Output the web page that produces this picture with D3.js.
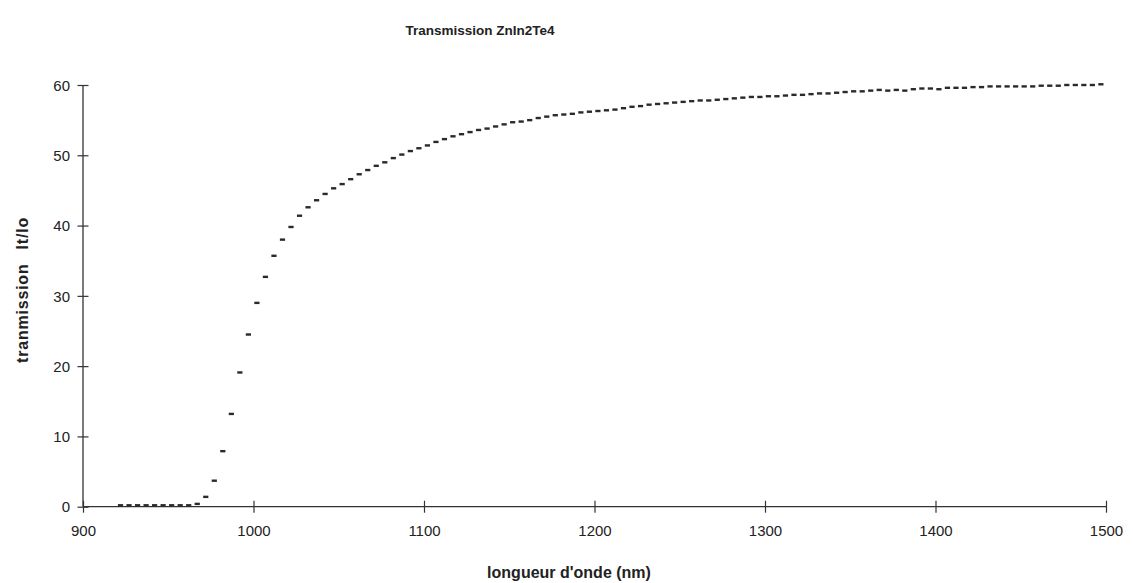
<!DOCTYPE html>
<html>
<head>
<meta charset="utf-8">
<script src="https://cdn.jsdelivr.net/npm/d3@7"></script>
<style>
  html, body { margin: 0; padding: 0; background: #fff; }
  svg { display: block; }
  text { font-family: "Liberation Sans", Arial, sans-serif; fill: #222; }
</style>
</head>
<body>
<svg id="chart" width="1133" height="583"></svg>
<script>
// ---- data ----
const titleText = "Transmission ZnIn2Te4";
const xTitle = "longueur d'onde (nm)";
const yTitleWords = ["tranmission", "It/Io"];

const xTicks = [900, 1000, 1100, 1200, 1300, 1400, 1500];
const yTicks = [0, 10, 20, 30, 40, 50, 60];

const wavelengths = [
  922, 927, 932, 937, 942, 947, 952, 957, 962, 967,
  972, 977, 982, 987, 992, 997, 1002, 1007, 1012, 1017,
  1022, 1027, 1032, 1037, 1042, 1047, 1052, 1057, 1062, 1067,
  1072, 1077, 1082, 1087, 1092, 1097, 1102, 1107, 1112, 1117,
  1122, 1127, 1132, 1137, 1142, 1147, 1152, 1157, 1162, 1167,
  1172, 1177, 1182, 1187, 1192, 1197, 1202, 1207, 1212, 1217,
  1222, 1227, 1232, 1237, 1242, 1247, 1252, 1257, 1262, 1267,
  1272, 1277, 1282, 1287, 1292, 1297, 1302, 1307, 1312, 1317,
  1322, 1327, 1332, 1337, 1342, 1347, 1352, 1357, 1362, 1367,
  1372, 1377, 1382, 1387, 1392, 1397, 1402, 1407, 1412, 1417,
  1422, 1427, 1432, 1437, 1442, 1447, 1452, 1457, 1462, 1467,
  1472, 1477, 1482, 1487, 1492, 1497
];

const transmission = [
  0.2, 0.2, 0.2, 0.2, 0.2, 0.2, 0.2, 0.2, 0.2, 0.4,
  1.4, 3.7, 7.9, 13.2, 19.1, 24.5, 29.0, 32.7, 35.7, 38.0,
  39.8, 41.4, 42.6, 43.6, 44.5, 45.3, 45.9, 46.6, 47.3, 47.9,
  48.5, 49.0, 49.6, 50.1, 50.6, 51.0, 51.4, 51.9, 52.3, 52.7,
  53.0, 53.3, 53.6, 53.8, 54.1, 54.4, 54.7, 54.8, 55.0, 55.3,
  55.5, 55.7, 55.8, 55.9, 56.1, 56.2, 56.3, 56.4, 56.5, 56.7,
  56.9, 57.0, 57.2, 57.3, 57.4, 57.5, 57.6, 57.7, 57.8, 57.8,
  57.9, 58.0, 58.1, 58.2, 58.3, 58.3, 58.4, 58.4, 58.5, 58.6,
  58.6, 58.7, 58.8, 58.8, 58.9, 59.0, 59.1, 59.1, 59.2, 59.3,
  59.2, 59.3, 59.2, 59.4, 59.5, 59.5, 59.4, 59.6, 59.6, 59.6,
  59.7, 59.7, 59.8, 59.8, 59.8, 59.8, 59.8, 59.8, 59.9, 59.9,
  59.9, 60.0, 60.0, 60.0, 60.0, 60.1
];

// ---- drawing ----
const svg = d3.select("#chart");
const x = d3.scaleLinear().domain([900, 1500]).range([83, 1106]);
const y = d3.scaleLinear().domain([0, 60]).range([506.7, 85]);
const axisColor = "#333";

// x axis (ticks crossing the line)
const xAxis = d3.axisBottom(x).tickValues(xTicks).tickSize(0).tickFormat(d3.format("d"));
const gx = svg.append("g").attr("transform", `translate(0,${y(0)})`).call(xAxis);
gx.select(".domain").attr("d", `M${x(900)},0H${x(1500)}`).attr("stroke", axisColor).attr("stroke-width", 1.3);
gx.selectAll(".tick line").attr("y1", -6).attr("y2", 6).attr("stroke", axisColor).attr("stroke-width", 1.2);
gx.selectAll(".tick text").attr("y", 19).attr("dy", "0.71em")
  .style("font-size", "15px").style("font-family", "'Liberation Sans', Arial, sans-serif").attr("fill", "#222");

// y axis
const yAxis = d3.axisLeft(y).tickValues(yTicks).tickSize(0);
const gy = svg.append("g").attr("transform", `translate(${x(900)},0)`).call(yAxis);
gy.select(".domain").attr("d", `M0,${y(0)}V${y(60)}`).attr("stroke", axisColor).attr("stroke-width", 1.3);
gy.selectAll(".tick line").attr("x1", -5.5).attr("x2", 5.5).attr("stroke", axisColor).attr("stroke-width", 1.2);
gy.selectAll(".tick text").attr("x", -13).attr("dy", "0.35em")
  .style("font-size", "15px").style("font-family", "'Liberation Sans', Arial, sans-serif").attr("fill", "#222");

// data markers (short horizontal dashes)
const pts = wavelengths.map((w, i) => ({ w, t: transmission[i] }));
svg.append("g").selectAll("rect").data(pts).join("rect")
  .attr("x", d => x(d.w) - 2.6)
  .attr("y", d => y(d.t) - 1.2)
  .attr("width", 5.2)
  .attr("height", 2.4)
  .attr("fill", "#2a2a2a");

// titles
svg.append("text").attr("x", 480).attr("y", 35).attr("text-anchor", "middle")
  .style("font-size", "13.5px").style("font-weight", "bold").text(titleText);
svg.append("text").attr("x", 569).attr("y", 578).attr("text-anchor", "middle")
  .style("font-size", "16px").style("font-weight", "bold").text(xTitle);
const yt = svg.append("text").attr("transform", "translate(28,290) rotate(-90)").attr("text-anchor", "middle")
  .style("font-size", "16px").style("font-weight", "bold").style("letter-spacing", "0.8px");
yt.append("tspan").text(yTitleWords[0]);
yt.append("tspan").attr("dx", 14).text(yTitleWords[1]);
</script>
</body>
</html>
